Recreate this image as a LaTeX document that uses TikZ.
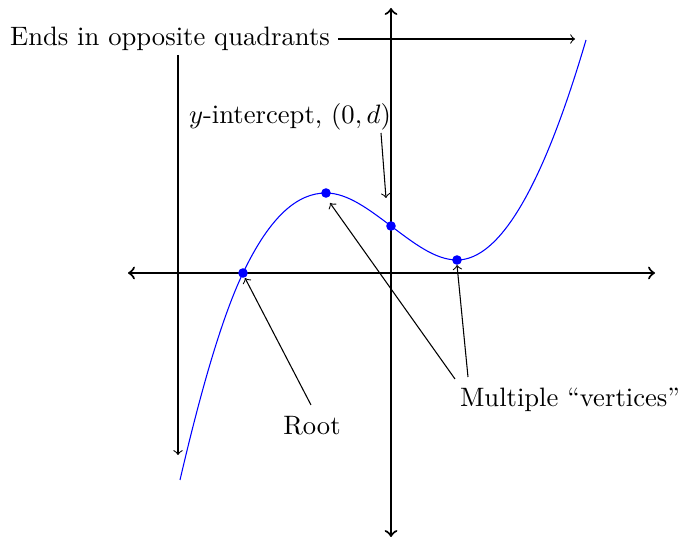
\documentclass[tikz,border=0pt]{standalone}
\begin{document}
\begin{tikzpicture}[x=0.0132cm,y=-0.0132cm,
  axis/.style={thick,<->},
  ann/.style={->},
  dot/.style={circle,fill=blue,inner sep=0pt,minimum size=3.6pt},
  lbl/.style={inner sep=0pt}]
\useasboundingbox (0,0) rectangle (680,538);
% axes
\coordinate (xl) at (128,273);
\coordinate (xr) at (655,273);
\coordinate (yt) at (391,8);
\coordinate (yb) at (391,537);
\draw[axis] (xl) -- (xr);
\draw[axis] (yb) -- (yt);
% curve
\coordinate (cs) at (180,480);
\coordinate (ce) at (586,40);
\draw[blue] (cs) .. controls (201,389.7) and (222,317.1) .. (243,273)
  .. controls (270.7,214.9) and (298.3,193) .. (326,193)
  .. controls (347.7,193) and (369.3,209.75) .. (391,226)
  .. controls (413,242.5) and (435,260) .. (457,260)
  .. controls (500,260) and (543,186.2) .. (ce);
% dots
\node[dot] (root) at (243,273) {};
\node[dot] (max) at (326,193) {};
\node[dot] (yint) at (391,226) {};
\node[dot] (min) at (457,260) {};
% labels
\node[lbl] (ends) at (170,39) {Ends in opposite quadrants};
\node[lbl] (ylab) at (290,117) {$y$-intercept, $(0,d)$};
\node[lbl] (rootlab) at (312,426) {Root};
\node[lbl] (vert) at (570,400) {Multiple ``vertices''};
% annotation arrows
\coordinate (e1s) at (338,39);
\coordinate (e1e) at (575,39);
\coordinate (e2s) at (178,55);
\coordinate (e2e) at (178,455);
\draw[ann] (e1s) -- (e1e);
\draw[ann] (e2s) -- (e2e);
\coordinate (ys) at (381,133);
\coordinate (ye) at (386,198);
\draw[ann] (ys) -- (ye);
\coordinate (rs) at (311,405);
\coordinate (re) at (245,278);
\draw[ann] (rs) -- (re);
\coordinate (v1s) at (455,379);
\coordinate (v1e) at (330,203);
\coordinate (v2s) at (468,377);
\coordinate (v2e) at (457,265);
\draw[ann] (v1s) -- (v1e);
\draw[ann] (v2s) -- (v2e);
\end{tikzpicture}
\end{document}
